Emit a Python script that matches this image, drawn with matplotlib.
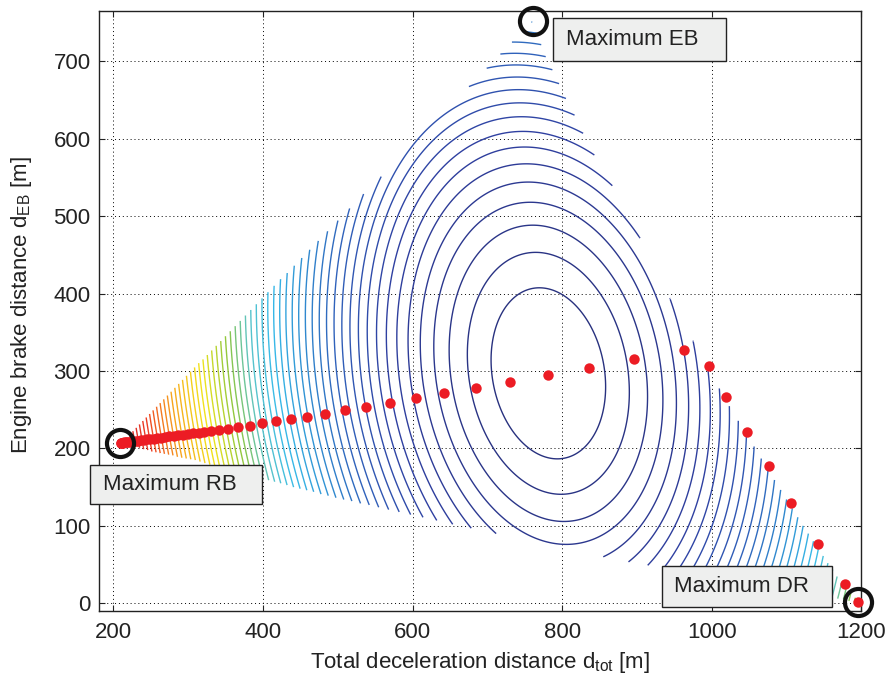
import matplotlib
matplotlib.use("Agg")
import matplotlib.pyplot as plt
import numpy as np
from matplotlib.colors import LinearSegmentedColormap, Normalize
from matplotlib.patches import Rectangle
from matplotlib.path import Path

plt.rcParams["font.family"] = ["Liberation Sans", "DejaVu Sans"]
plt.rcParams["mathtext.fontset"] = "custom"
plt.rcParams["mathtext.rm"] = "Liberation Sans"
plt.rcParams["mathtext.it"] = "Liberation Sans:italic"

# cost surface: centre of innermost ring + quadratic form
centre_x, centre_y = 781.5, 297.0
quad_a, quad_b, quad_c = 1.75e-4, 1.9e-5, 8.4e-5
levels = np.arange(1, 61)

# feasible region outline (d_tot, d_EB)
region_x = [210, 760, 780, 842, 869, 909, 946, 978, 994, 1017, 1045, 1073, 1103, 1138, 1175, 1200,
            1100, 1000, 870, 680, 493, 400, 310, 250, 210]
region_y = [207, 752, 703, 581, 537, 463, 391, 334, 306, 266, 221, 177, 130, 77, 25, 0,
            17, 35, 56, 96, 137, 160, 184, 196, 207]

# optimal split (red dots)
path_x = [210, 211, 212, 213.5, 215, 217, 219, 221.5, 224, 227, 230, 233.5, 237, 241, 245, 249.5,
          254, 259, 264, 269.5, 275, 281, 287, 293.5, 300, 307, 314, 321.5,
          330.3, 341.3, 353.3, 367.2, 382.3, 399.2, 417.9, 437.3, 459.2, 483.2, 509.3, 538.3,
          570.3, 604.9, 642.7, 684.9, 730.7, 780.9, 836.0, 896.5, 962.7, 996.0, 1019.2,
          1047.6, 1076.0, 1105.9, 1141.3, 1178.3, 1194.7]
path_y = [207.0, 207.1, 207.3, 207.5, 207.7, 207.9, 208.2, 208.5, 208.8, 209.2, 209.6, 210.1,
          210.5, 211.0, 211.6, 212.1, 212.7, 213.4, 214.0, 214.7, 215.5, 216.2, 217.0, 217.9,
          218.7, 219.6, 220.5, 221.5,
          222.6, 223.9, 225.7, 227.4, 229.6, 232.2, 235.1, 238.1, 241.2, 245.1, 249.1, 253.6,
          259.2, 264.9, 271.7, 277.8, 286.0, 294.6, 304.5, 316.1, 327.7, 306.2, 266.6,
          221.3, 177.0, 129.6, 77.1, 25.4, 1.0]

# circled corners
corner_x = [209, 761.5, 1195.5]
corner_y = [206.5, 752.5, 1.0]

xticks = [200, 400, 600, 800, 1000, 1200]
yticks = [0, 100, 200, 300, 400, 500, 600, 700]

# jet, as it looks after printing
cmap = LinearSegmentedColormap.from_list("printjet", [
    (0.00, "#28317f"), (0.12, "#2f40a2"), (0.22, "#3062bb"), (0.30, "#3090d2"),
    (0.38, "#38bbe9"), (0.45, "#5cc4c8"), (0.52, "#8dc63f"), (0.62, "#f2e51c"),
    (0.75, "#f7a21d"), (0.87, "#ee3a24"), (1.00, "#c5202a")])

W, H = 887, 682
fig = plt.figure(figsize=(W / 100, H / 100), dpi=100)
ax = fig.add_axes([99 / W, 1 - 611 / H, 762.5 / W, 600 / H])

gx = np.linspace(180, 1200, 1021)
gy = np.linspace(-10, 765, 776)
X, Y = np.meshgrid(gx, gy)
dx = X - centre_x
dy = Y - centre_y
Z = quad_a * dx ** 2 + 2 * quad_b * dx * dy + quad_c * dy ** 2
region = Path(np.column_stack([region_x, region_y]))
inside = region.contains_points(np.column_stack([X.ravel(), Y.ravel()])).reshape(X.shape)
Z = np.ma.masked_where(~inside, Z)
ax.contour(X, Y, Z, levels=levels, cmap=cmap, norm=Normalize(1, 60), linewidths=1.0, zorder=2)

ax.plot(path_x, path_y, "o", ms=7.5, color="#ec1c24", mec="none", zorder=4, clip_on=False)
ax.plot(corner_x, corner_y, "o", ms=19.5, mfc="none", mec="#111111", mew=3.0, zorder=5, clip_on=False)

ax.set_xlim(181, 1200)
ax.set_ylim(-10, 765)
ax.set_xticks(xticks)
ax.set_yticks(yticks)
ax.grid(True, linestyle=(0, (1, 3)), color="k", linewidth=0.7)
ax.set_axisbelow(True)
ax.tick_params(direction="in", length=4, width=0.8, top=True, right=True, labelsize=16, colors="#222222")
ax.tick_params(axis="x", pad=8)
ax.tick_params(axis="y", pad=6)
for s in ax.spines.values():
    s.set_linewidth(1.0)
    s.set_color("#222222")

fig.text(480 / W, 1 - 668 / H, r"Total deceleration distance d$_\mathrm{tot}$ [m]",
         ha="center", va="baseline", fontsize=16, color="#222222")
fig.text(22 / W, 1 - 305 / H, r"Engine brake distance d$_\mathrm{EB}$ [m]",
         ha="center", va="center", rotation=90, fontsize=16, color="#222222")


def label_box(x0, y0, x1, y1, tx, text):
    fig.patches.append(Rectangle((x0 / W, 1 - y1 / H), (x1 - x0) / W, (y1 - y0) / H,
                                 transform=fig.transFigure, facecolor="#eeefee",
                                 edgecolor="#222222", linewidth=1.0, zorder=10))
    fig.text(tx / W, 1 - (y0 + y1) / 2 / H, text, ha="left", va="center",
             fontsize=16, color="#222222", zorder=11)


label_box(553, 18, 726, 61, 566, "Maximum EB")
label_box(90, 465, 262, 504, 103, "Maximum RB")
label_box(662, 566, 832, 607, 674, "Maximum DR")

fig.savefig("out.png", dpi=100)
